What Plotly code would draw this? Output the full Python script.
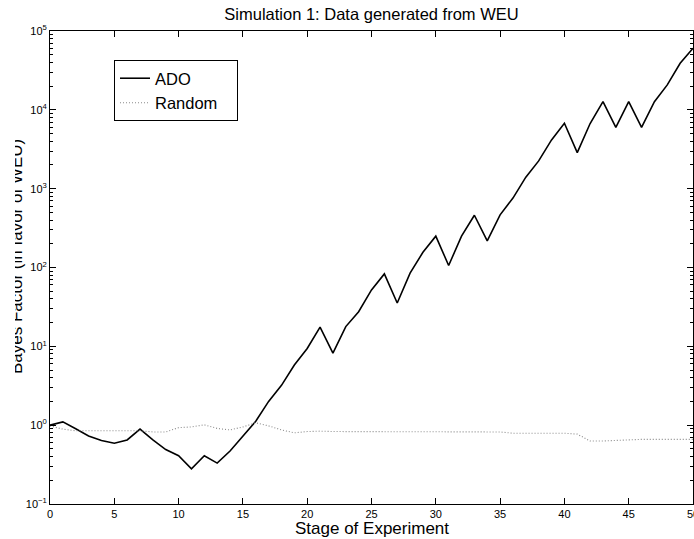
import plotly.graph_objects as go

stages = list(range(0, 51))
ado = [1.0, 1.1, 0.9, 0.73, 0.64, 0.59, 0.65, 0.89, 0.65, 0.49,
       0.41, 0.28, 0.41, 0.33, 0.47, 0.73, 1.12, 2.0, 3.2, 5.8,
       9.4, 17.5, 8.2, 17.8, 27.5, 52, 83, 35.5, 85, 156,
       250, 106, 250, 460, 218, 465, 760, 1400, 2250, 4150,
       6750, 2870, 6700, 12700, 6000, 12700, 6000, 12700, 20700, 39000,
       60500]
rand = [0.98, 0.89, 0.85, 0.85, 0.85, 0.85, 0.85, 0.85, 0.82, 0.82,
        0.93, 0.95, 1.01, 0.91, 0.87, 0.95, 1.07, 0.98, 0.87, 0.80,
        0.83, 0.84, 0.83, 0.83, 0.82, 0.82, 0.82, 0.82, 0.82, 0.82,
        0.82, 0.82, 0.82, 0.82, 0.82, 0.82, 0.79, 0.79, 0.79, 0.79,
        0.79, 0.77, 0.63, 0.63, 0.64, 0.66, 0.66, 0.66, 0.66, 0.66,
        0.66]

x_ticks = list(range(0, 51, 5))
y_exps = [-1, 0, 1, 2, 3, 4, 5]
y_ticktext = ["10<sup>%s</sup>" % ("\u2212" + str(-e) if e < 0 else str(e)) for e in y_exps]
y_tickvals = [10.0 ** e for e in y_exps]
y_minor = [m * 10.0 ** e for e in y_exps[:-1] for m in range(2, 10)]

FONT = "Liberation Sans, Arial, Helvetica, sans-serif"
W, H = 694, 539
L, R, T, B = 50, 1, 31, 35
pw, ph = W - L - R, H - T - B

fig = go.Figure()
fig.add_trace(go.Scatter(x=stages, y=ado, mode="lines", name="ADO",
                         line=dict(color="black", width=1.6), legendgroup="a"))
fig.add_trace(go.Scatter(x=stages, y=rand, mode="lines", name="Random\u00a0\u00a0\u00a0",
                         line=dict(color="#8a8a8a", width=1.1, dash="1px,2px"), legendgroup="b"))

fig.update_layout(
    width=W, height=H,
    margin=dict(l=L, r=R, t=T, b=B, autoexpand=False),
    paper_bgcolor="white", plot_bgcolor="white",
    font=dict(family=FONT, color="black", size=11),
    title=dict(text="Simulation 1: Data generated from WEU", font=dict(size=16.5),
               xref="paper", x=0.5, xanchor="center",
               yref="container", y=1 - 14 / H, yanchor="middle"),
    showlegend=True,
    legend=dict(x=(114 - L) / pw, y=(504 - 60) / ph, xanchor="left", yanchor="top",
                bgcolor="white", bordercolor="black", borderwidth=1,
                font=dict(size=16.5), tracegroupgap=0, itemwidth=30),
)

fig.update_xaxes(range=[0, 50], tickmode="array", tickvals=x_ticks,
                 ticks="inside", ticklen=6, tickcolor="black", tickwidth=1,
                 showline=True, linecolor="black", linewidth=1, mirror="ticks",
                 showgrid=False, zeroline=False, tickfont=dict(size=11),
                 ticklabeloverflow="allow", automargin=False)
fig.update_yaxes(type="log", range=[-1, 5], tickmode="array", tickvals=y_tickvals,
                 ticktext=y_ticktext,
                 ticks="inside", ticklen=6, tickcolor="black", tickwidth=1,
                 minor=dict(tickmode="array", tickvals=y_minor, ticks="inside",
                            ticklen=3, tickcolor="black", tickwidth=1, showgrid=False),
                 showline=True, linecolor="black", linewidth=1, mirror="ticks",
                 showgrid=False, zeroline=False, tickfont=dict(size=11),
                 ticklabeloverflow="allow", automargin=False)

fig.add_annotation(text="Stage of Experiment", xref="paper", yref="paper",
                   x=0.5, y=-(528 - 504) / ph, xanchor="center", yanchor="middle",
                   showarrow=False, font=dict(size=17))
fig.add_annotation(text="Bayes Factor (in favor of WEU)", xref="paper", yref="paper",
                   x=-(L - 16) / pw, y=(504 - 257) / ph, xanchor="center", yanchor="middle",
                   textangle=-90, showarrow=False, font=dict(size=17))
fig.add_annotation(text=" ", xref="paper", yref="paper",
                   x=-L / pw, y=0.5, xanchor="left", yanchor="middle",
                   width=15, height=460, bgcolor="white", borderpad=0, borderwidth=0,
                   showarrow=False)

fig.write_html("out.html", config={"displayModeBar": False},
               post_script="document.body.style.margin='0';document.body.style.padding='0';")
